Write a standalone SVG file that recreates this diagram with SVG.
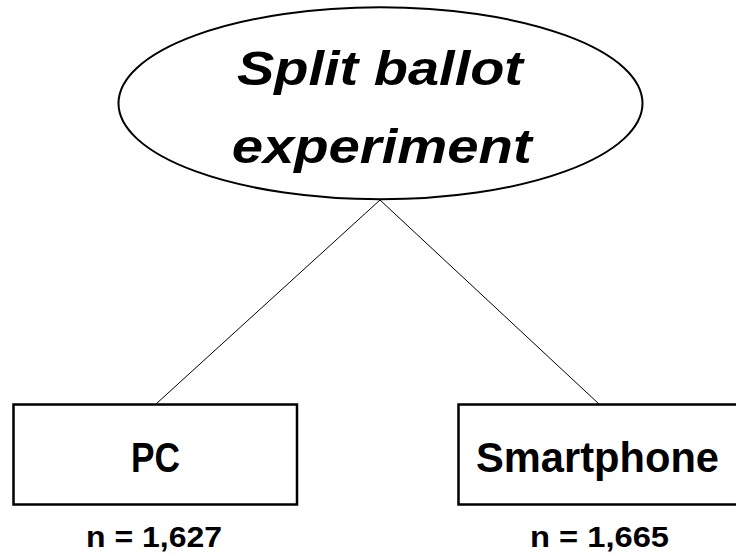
<svg xmlns="http://www.w3.org/2000/svg" width="736" height="556" viewBox="0 0 736 556">
<style>
.shape{fill:#fff;stroke:#000;}
.title{font-family:"Liberation Sans",Arial,sans-serif;font-weight:bold;font-style:italic;font-size:49px;fill:#000;text-anchor:middle;}
.lbl{font-family:"Liberation Sans",Arial,sans-serif;font-weight:bold;font-size:42px;fill:#000;text-anchor:middle;}
.n{font-family:"Liberation Sans",Arial,sans-serif;font-weight:bold;font-size:30px;fill:#000;text-anchor:middle;}
.conn{stroke:#000;stroke-width:1;fill:none;}
</style>
<rect width="736" height="556" fill="#fff"/>
<g id="connectors">
<line class="conn" x1="380" y1="200" x2="156" y2="404"/>
<line class="conn" x1="380" y1="200" x2="599" y2="404"/>
</g>
<g id="root">
<ellipse class="shape" cx="380.5" cy="103.3" rx="262" ry="96" stroke-width="2"/>
<text class="title" x="380" y="85" textLength="286" lengthAdjust="spacingAndGlyphs">Split ballot</text>
<text class="title" x="381.7" y="163" textLength="300" lengthAdjust="spacingAndGlyphs">experiment</text>
</g>
<g id="pc">
<rect class="shape" x="13.5" y="404.5" width="283.5" height="100" stroke-width="2.5"/>
<text class="lbl" x="155.5" y="471.7" textLength="49" lengthAdjust="spacingAndGlyphs">PC</text>
<text class="n" x="154" y="546.7" textLength="136" lengthAdjust="spacingAndGlyphs">n = 1,627</text>
</g>
<g id="smartphone">
<rect class="shape" x="458.5" y="404.5" width="284" height="100" stroke-width="2.5"/>
<text class="lbl" x="597.5" y="471.7" textLength="243" lengthAdjust="spacingAndGlyphs">Smartphone</text>
<text class="n" x="599.5" y="546.7" textLength="139" lengthAdjust="spacingAndGlyphs">n = 1,665</text>
</g>
</svg>
